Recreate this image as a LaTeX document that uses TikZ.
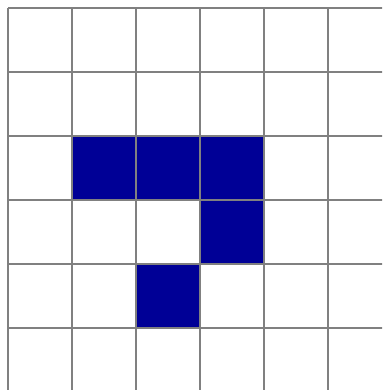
\documentclass[tikz,border=0pt]{standalone}
\definecolor{cellblue}{RGB}{0,0,150}
\definecolor{gridgray}{RGB}{128,128,128}
\tikzset{cell/.style={fill=cellblue,draw=none},gridline/.style={draw=gridgray,line width=2pt}}
\begin{document}
\begin{tikzpicture}[x=1pt,y=-1pt]
\useasboundingbox (0,0) rectangle (382,390);
\fill[white] (0,0) rectangle (382,390);
\fill[cell] (72,136) rectangle (264,200);
\fill[cell] (200,200) rectangle (264,264);
\fill[cell] (136,264) rectangle (200,328);
\clip (0,0) rectangle (382,390);
\foreach \v in {8,72,136,200,264,328} {
  \draw[gridline] (\v,8) -- (\v,400);
  \draw[gridline] (8,\v) -- (400,\v);
}
\end{tikzpicture}
\end{document}
